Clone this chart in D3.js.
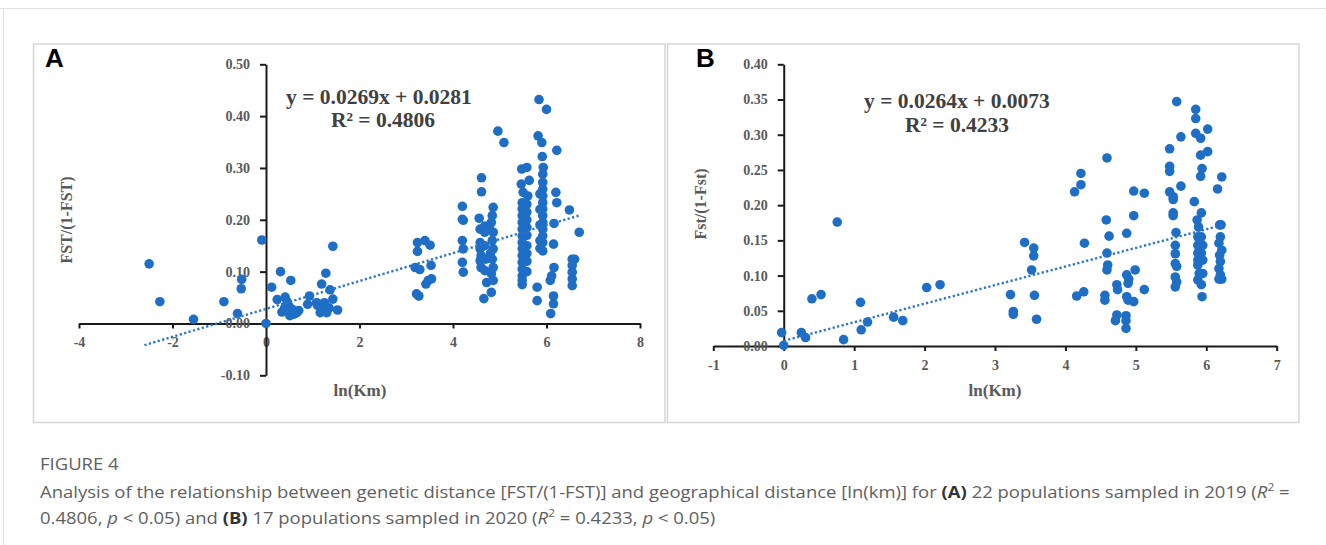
<!DOCTYPE html>
<html>
  <head>
    <meta charset="utf-8" />
    <title>Figure 4 - genetic vs geographical distance</title>
    <style>
      body {
        margin: 0;
        background: #fff;
      }
      #svg {
        display: block;
      }
      .axis text {
        font-family: 'Liberation Serif', serif;
        font-weight: bold;
        font-size: 14px;
        fill: #595959;
      }
      .axis path,
      .axis line {
        stroke: #1a1a1a;
        stroke-width: 2;
      }
      .title {
        font-family: 'Liberation Serif', serif;
        font-weight: bold;
        fill: #595959;
      }
      .eq {
        font-family: 'Liberation Serif', serif;
        font-weight: bold;
        font-size: 21.5px;
        fill: #404040;
      }
      .caption {
        font-family: 'Open Sans', sans-serif;
        fill: #5f5f5f;
      }
    </style>
  </head>
  <body>
    <svg id="svg" width="1326" height="545"></svg>
    <script src="https://cdn.jsdelivr.net/npm/d3@7"></script>
    <script>
      // ---- data: [ln(km), FST/(1-FST)] ----
      const pointsA = [
        [-2.50, 0.115], [-2.27, 0.042], [-1.55, 0.008], [-0.90, 0.042], [-0.61, 0.019],
        [-0.53, 0.067], [-0.52, 0.085], [-0.09, 0.161], [0, 0],
        [0.12, 0.070], [0.31, 0.100], [0.53, 0.083], [0.24, 0.046], [0.41, 0.051],
        [0.34, 0.022], [0.51, 0.015], [0.66, 0.021], [0.48, 0.035], [0.55, 0.028],
        [0.40, 0.030], [0.60, 0.018], [0.70, 0.025], [0.45, 0.042],
        [0.93, 0.053], [0.89, 0.037], [1.10, 0.035], [1.19, 0.076], [1.28, 0.097],
        [1.37, 0.065], [1.43, 0.149], [1.43, 0.047], [1.53, 0.026], [1.16, 0.021],
        [1.30, 0.021], [1.23, 0.029], [1.08, 0.040], [1.25, 0.040], [1.35, 0.030],
        [3.24, 0.156], [3.40, 0.160], [3.51, 0.151], [3.24, 0.139], [3.19, 0.108],
        [3.29, 0.104], [3.53, 0.112], [3.47, 0.083], [3.54, 0.086], [3.42, 0.076],
        [3.22, 0.057], [3.27, 0.053],
        [4.20, 0.226], [4.20, 0.201], [4.22, 0.199], [4.20, 0.160], [4.22, 0.144],
        [4.20, 0.118], [4.22, 0.099],
        [4.96, 0.371], [5.09, 0.349], [4.61, 0.281], [4.61, 0.254], [4.56, 0.203],
        [4.58, 0.182], [4.58, 0.156], [4.58, 0.144], [4.60, 0.131], [4.58, 0.121],
        [4.60, 0.108], [4.68, 0.188], [4.68, 0.176], [4.68, 0.150], [4.70, 0.124],
        [4.68, 0.102], [4.72, 0.079], [4.66, 0.048],
        [4.86, 0.224], [4.84, 0.208], [4.82, 0.195], [4.86, 0.176], [4.84, 0.160],
        [4.86, 0.144], [4.84, 0.124], [4.86, 0.108], [4.82, 0.096], [4.86, 0.083],
        [4.82, 0.060], [4.78, 0.188], [4.80, 0.135],
        [5.47, 0.298], [5.58, 0.301], [5.63, 0.276], [5.46, 0.269], [5.50, 0.253],
        [5.60, 0.246], [5.48, 0.233], [5.48, 0.221], [5.48, 0.208], [5.48, 0.195],
        [5.48, 0.182], [5.48, 0.169], [5.48, 0.156], [5.48, 0.144], [5.48, 0.131],
        [5.48, 0.118], [5.48, 0.105], [5.48, 0.092], [5.48, 0.083], [5.48, 0.075],
        [5.58, 0.230], [5.58, 0.215], [5.58, 0.200], [5.58, 0.185], [5.58, 0.170],
        [5.58, 0.150], [5.58, 0.135], [5.58, 0.120], [5.58, 0.100],
        [5.80, 0.070], [5.80, 0.044],
        [5.84, 0.432], [6.00, 0.413], [5.82, 0.362], [5.90, 0.349], [5.91, 0.322],
        [6.22, 0.334], [5.93, 0.301], [5.92, 0.288], [5.92, 0.272], [5.92, 0.259],
        [5.92, 0.246], [5.92, 0.233], [5.92, 0.221], [5.92, 0.208], [5.92, 0.195],
        [5.92, 0.182], [5.92, 0.169], [5.92, 0.156], [5.92, 0.140],
        [5.86, 0.250], [5.86, 0.220], [5.86, 0.190], [5.86, 0.160], [5.86, 0.145],
        [6.20, 0.253], [6.22, 0.233], [6.16, 0.193], [6.15, 0.153], [6.16, 0.108],
        [6.11, 0.092], [6.08, 0.083], [6.15, 0.053], [6.15, 0.038], [6.09, 0.019],
        [6.49, 0.219], [6.70, 0.176],
        [6.55, 0.124], [6.55, 0.112], [6.55, 0.099], [6.55, 0.086], [6.55, 0.073],
        [6.60, 0.124],
      ];

      // [ln(km), Fst/(1-Fst)]
      const pointsB = [
        [-0.03, 0.019], [0, 0.001], [0.25, 0.019], [0.31, 0.012], [0.40, 0.067],
        [0.53, 0.073], [0.76, 0.176], [0.85, 0.009], [1.09, 0.062], [1.10, 0.023],
        [1.19, 0.034], [1.56, 0.041], [1.69, 0.036], [2.03, 0.083], [2.22, 0.087],
        [3.42, 0.147], [3.55, 0.139], [3.55, 0.128], [3.52, 0.108], [3.22, 0.073],
        [3.26, 0.049], [3.26, 0.045], [3.56, 0.072], [3.59, 0.038],
        [4.16, 0.071], [4.26, 0.077], [4.27, 0.146], [4.13, 0.219], [4.22, 0.229],
        [4.22, 0.245],
        [4.59, 0.267], [4.62, 0.156], [4.58, 0.179], [4.59, 0.132], [4.60, 0.115],
        [4.59, 0.108], [4.56, 0.072], [4.56, 0.065],
        [4.87, 0.160], [4.97, 0.185], [4.97, 0.220], [5.12, 0.217], [4.87, 0.101],
        [4.99, 0.108], [4.73, 0.087], [4.74, 0.080], [4.89, 0.089], [4.87, 0.070],
        [4.97, 0.063], [5.12, 0.080], [4.89, 0.065], [4.73, 0.044], [4.71, 0.036],
        [4.86, 0.043], [4.86, 0.036], [4.86, 0.025], [4.90, 0.095],
        [5.48, 0.280], [5.48, 0.255], [5.48, 0.248], [5.48, 0.219], [5.53, 0.212],
        [5.53, 0.208], [5.53, 0.189], [5.53, 0.185], [5.57, 0.161], [5.56, 0.143],
        [5.56, 0.131], [5.56, 0.117], [5.58, 0.113], [5.56, 0.098], [5.58, 0.091],
        [5.56, 0.084], [5.64, 0.227], [5.58, 0.347], [5.64, 0.297],
        [5.85, 0.336], [5.85, 0.323], [5.85, 0.302], [5.92, 0.295], [6.02, 0.308],
        [5.92, 0.271], [6.02, 0.276], [5.94, 0.252], [5.92, 0.241], [6.22, 0.240],
        [6.16, 0.223], [5.83, 0.205], [5.93, 0.189], [5.87, 0.179], [5.89, 0.169],
        [5.88, 0.155], [5.93, 0.155], [5.88, 0.143], [5.95, 0.143], [5.88, 0.132],
        [5.93, 0.132], [5.88, 0.122], [5.95, 0.122], [5.88, 0.115], [5.90, 0.103],
        [5.95, 0.103], [5.88, 0.094], [5.93, 0.087], [5.94, 0.070],
        [6.19, 0.172], [6.21, 0.172], [6.20, 0.155], [6.18, 0.146], [6.22, 0.136],
        [6.19, 0.129], [6.20, 0.120], [6.18, 0.110], [6.20, 0.101], [6.22, 0.095],
        [6.18, 0.095],
      ];

      // linear trend: [slope, intercept] and the x span it is drawn over
      const fitA = [0.0269, 0.0281];
      const fitSpanA = [-2.6, 6.7];
      const fitB = [0.0264, 0.0073];
      const fitSpanB = [0, 6.22];

      const eqA = ['y = 0.0269x + 0.0281', 'R² = 0.4806'];
      const eqB = ['y = 0.0264x + 0.0073', 'R² = 0.4233'];

      const xTicksA = [-4, -2, 0, 2, 4, 6, 8];
      const yTicksA = [-0.1, 0, 0.1, 0.2, 0.3, 0.4, 0.5];
      const xTicksB = [-1, 0, 1, 2, 3, 4, 5, 6, 7];
      const yTicksB = [0, 0.05, 0.1, 0.15, 0.2, 0.25, 0.3, 0.35, 0.4];

      const dotColor = '#1f6ec6';
      // Excel-style labels use a plain hyphen, not the unicode minus
      const hyphen = (f) => (d) => f(d).replace('\u2212', '-');

      const svg = d3.select('#svg');

      // light page rules
      svg.append('line')
        .attr('x1', 0).attr('x2', 1326).attr('y1', 8.5).attr('y2', 8.5)
        .attr('stroke', '#e2e2e2').attr('stroke-width', 1);
      svg.append('line')
        .attr('x1', 3.5).attr('x2', 3.5).attr('y1', 8).attr('y2', 545)
        .attr('stroke', '#e2e2e2').attr('stroke-width', 1);

      function drawPanel(opts) {
        const g = svg.append('g');

        g.append('rect')
          .attr('x', opts.frame[0]).attr('y', opts.frame[1])
          .attr('width', opts.frame[2]).attr('height', opts.frame[3])
          .attr('fill', '#fff')
          .attr('stroke', '#d6d6d6')
          .attr('stroke-width', 1.5);

        const x = d3.scaleLinear().domain(opts.xDomain).range(opts.xRange);
        const y = d3.scaleLinear().domain(opts.yDomain).range(opts.yRange);

        g.append('g')
          .attr('class', 'axis')
          .attr('transform', `translate(0, ${y(0)})`)
          .call(
            d3.axisBottom(x)
              .tickValues(opts.xTicks)
              .tickSize(5)
              .tickSizeOuter(0)
              .tickPadding(9)
              .tickFormat(hyphen(d3.format('d')))
          );

        g.append('g')
          .attr('class', 'axis')
          .attr('transform', `translate(${x(0)}, 0)`)
          .call(
            d3.axisLeft(y)
              .tickValues(opts.yTicks)
              .tickSize(6)
              .tickSizeOuter(0)
              .tickPadding(10)
              .tickFormat(hyphen(d3.format('.2f')))
          );

        g.append('g')
          .selectAll('circle')
          .data(opts.points)
          .enter()
          .append('circle')
          .attr('cx', (d) => x(d[0]))
          .attr('cy', (d) => y(d[1]))
          .attr('r', 4.8)
          .attr('fill', dotColor);

        const fitLine = d3.line()
          .x((d) => x(d))
          .y((d) => y(opts.fit[0] * d + opts.fit[1]));
        g.append('path')
          .attr('d', fitLine(opts.fitSpan))
          .attr('fill', 'none')
          .attr('stroke', '#2a74c9')
          .attr('stroke-width', 2.4)
          .attr('stroke-dasharray', '2.2 2.4');

        // equation
        g.selectAll('.eq')
          .data(opts.eq)
          .enter()
          .append('text')
          .attr('class', 'eq')
          .attr('x', (d, i) => opts.eqPos[i][0])
          .attr('y', (d, i) => opts.eqPos[i][1])
          .attr('text-anchor', 'middle')
          .attr('dominant-baseline', 'central')
          .text((d) => d);

        // axis titles
        g.append('text')
          .attr('class', 'title')
          .attr('x', opts.xTitlePos[0])
          .attr('y', opts.xTitlePos[1])
          .attr('text-anchor', 'middle')
          .attr('dominant-baseline', 'central')
          .style('font-size', '17px')
          .text('ln(Km)');

        g.append('text')
          .attr('class', 'title')
          .attr('transform', `translate(${opts.yTitlePos[0]}, ${opts.yTitlePos[1]}) rotate(-90)`)
          .attr('text-anchor', 'middle')
          .attr('dominant-baseline', 'central')
          .style('font-size', '16px')
          .text(opts.yTitle);

        g.append('text')
          .attr('x', opts.letterPos[0])
          .attr('y', opts.letterPos[1])
          .style('font-family', "'Liberation Sans', Arial, sans-serif")
          .style('font-weight', 'bold')
          .style('font-size', '26px')
          .attr('fill', '#000')
          .text(opts.letter);
      }

      drawPanel({
        frame: [33.5, 44, 631.5, 378.5],
        xDomain: [-4, 8],
        xRange: [79, 640],
        yDomain: [-0.1, 0.5],
        yRange: [375.3, 64.3],
        xTicks: xTicksA,
        yTicks: yTicksA,
        points: pointsA,
        fit: fitA,
        fitSpan: fitSpanA,
        eq: eqA,
        eqPos: [[379, 97], [383, 120]],
        xTitlePos: [360, 390],
        yTitlePos: [66, 220],
        yTitle: 'FST/(1-FST)',
        letter: 'A',
        letterPos: [45, 67],
      });

      drawPanel({
        frame: [667.5, 44, 631.5, 378.5],
        xDomain: [-1, 7],
        xRange: [713.3, 1276.7],
        yDomain: [0, 0.4],
        yRange: [346, 64.3],
        xTicks: xTicksB,
        yTicks: yTicksB,
        points: pointsB,
        fit: fitB,
        fitSpan: fitSpanB,
        eq: eqB,
        eqPos: [[957, 101], [957, 125]],
        xTitlePos: [995, 390],
        yTitlePos: [700, 204],
        yTitle: 'Fst/(1-Fst)',
        letter: 'B',
        letterPos: [696, 67],
      });

      // ---- caption ----
      const captionTitle = 'FIGURE 4';
      const captionLine1 = [
        ['Analysis of the relationship between genetic distance [FST/(1-FST)] and geographical distance [ln(km)] for ', ''],
        ['(A)', 'b'],
        [' 22 populations sampled in 2019 (', ''],
        ['R', 'i'],
        ['2', 'sup'],
        [' =', ''],
      ];
      const captionLine2 = [
        ['0.4806, ', ''],
        ['p', 'i'],
        [' < 0.05) and ', ''],
        ['(B)', 'b'],
        [' 17 populations sampled in 2020 (', ''],
        ['R', 'i'],
        ['2', 'sup'],
        [' = 0.4233, ', ''],
        ['p', 'i'],
        [' < 0.05)', ''],
      ];

      const capSize = 16.5;

      function captionText(parts, yPos, weight, color) {
        const t = svg.append('text')
          .attr('class', 'caption')
          .attr('x', 0)
          .attr('y', 0)
          .attr('dominant-baseline', 'central')
          .style('font-size', capSize + 'px')
          .style('font-weight', weight)
          .attr('fill', color);
        let shifted = false;
        parts.forEach(([s, kind]) => {
          const ts = t.append('tspan').text(s);
          if (kind === 'b') ts.style('font-weight', 700).attr('fill', '#333');
          if (kind === 'i') ts.style('font-style', 'italic');
          if (kind === 'sup') {
            ts.style('font-size', capSize * 0.65 + 'px').attr('dy', -5);
            shifted = true;
          } else if (shifted) {
            ts.attr('dy', 5);
            shifted = false;
          }
        });
        return t;
      }

      const capTitle = captionText([[captionTitle, '']], '600', '#4d4d4d');
      const cap1 = captionText(captionLine1, '400', '#666');
      const cap2 = captionText(captionLine2, '400', '#666');

      // the source caption is set in a condensed face: squeeze horizontally
      const squeeze = 1250 / cap1.node().getComputedTextLength();
      capTitle.attr('transform', `translate(40, 463) scale(${squeeze}, 1)`);
      cap1.attr('transform', `translate(40, 491) scale(${squeeze}, 1)`);
      cap2.attr('transform', `translate(40, 517) scale(${squeeze}, 1)`);
    </script>
  </body>
</html>
